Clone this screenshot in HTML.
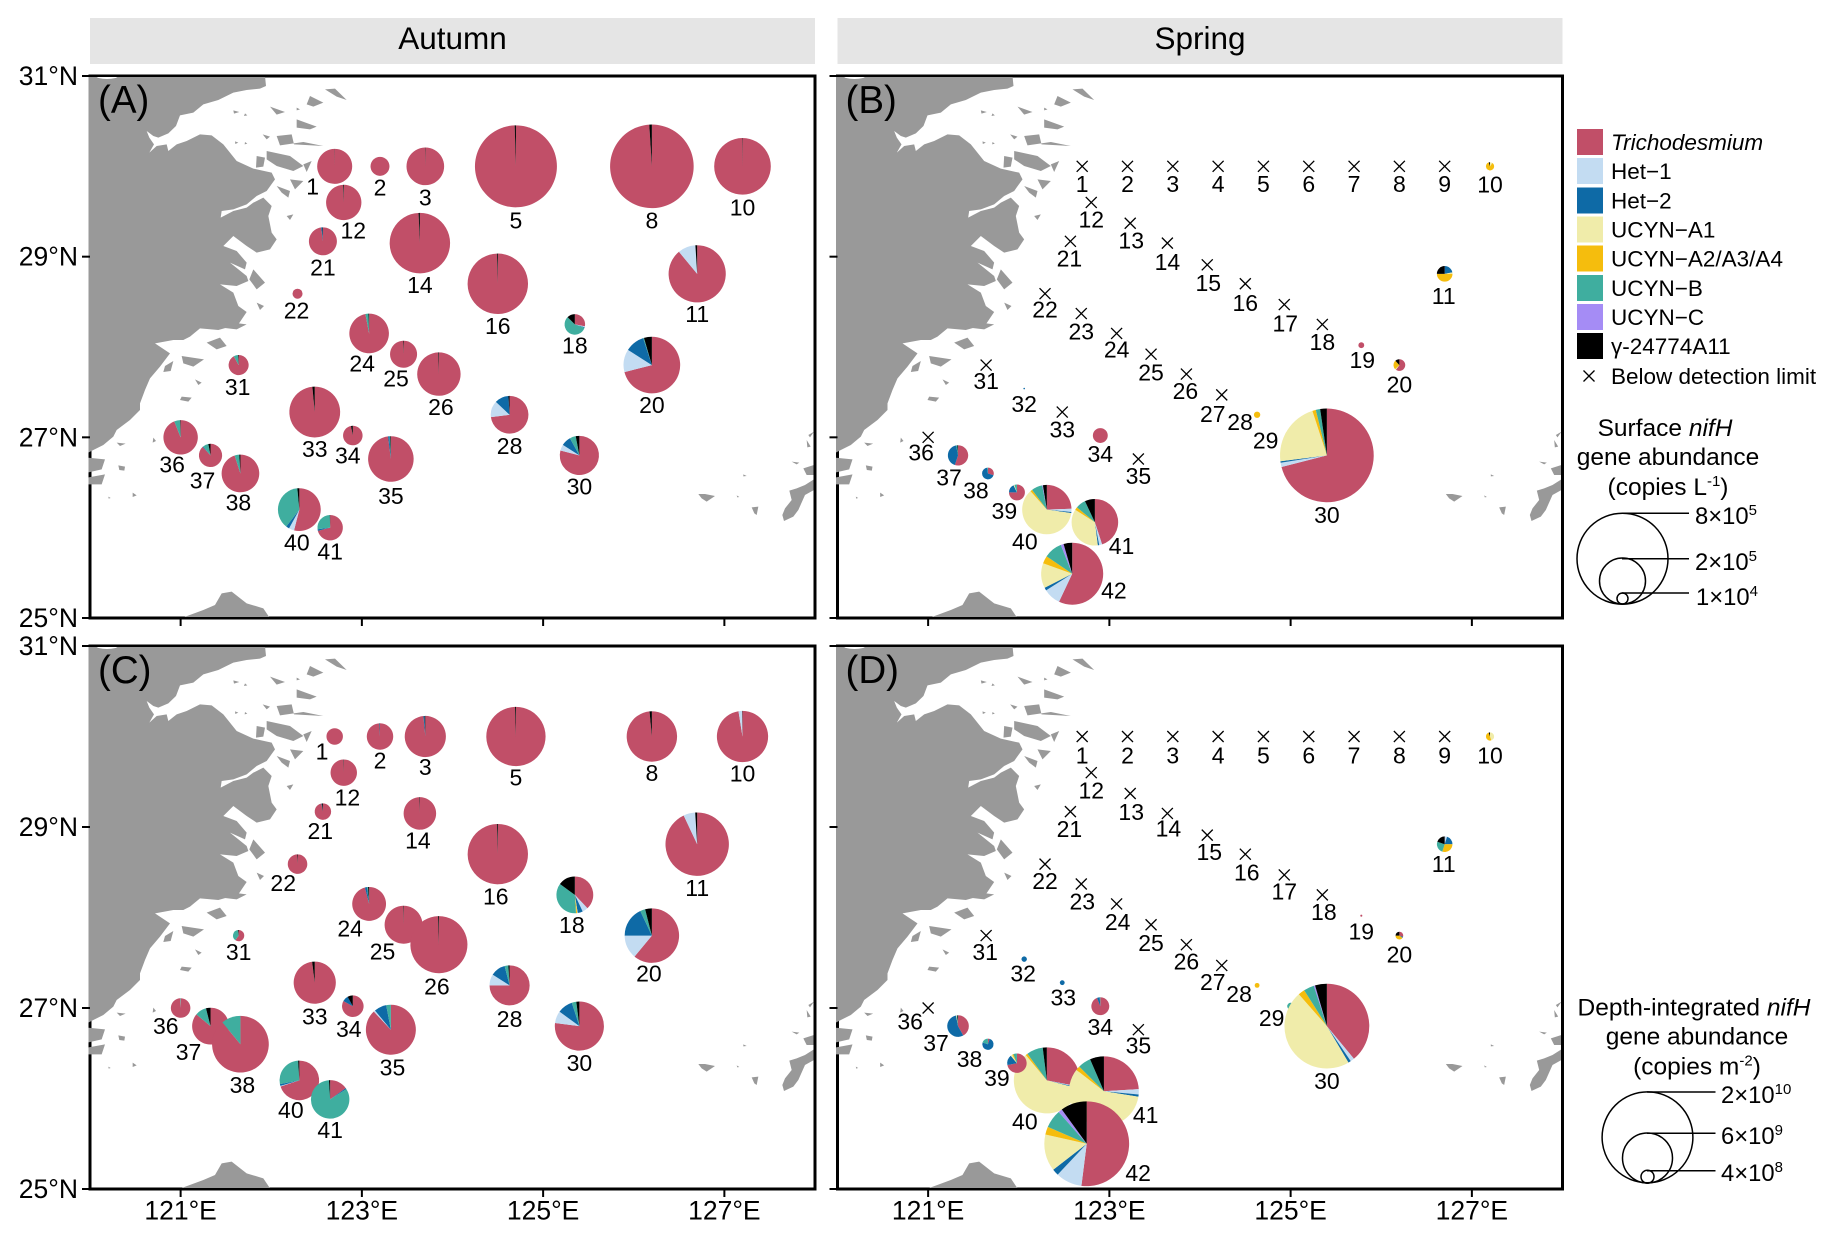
<!DOCTYPE html>
<html lang="en">
<head>
<meta charset="utf-8">
<title>nifH gene abundance maps</title>
<style>
html,body{margin:0;padding:0;background:#fff;}
svg{display:block;font-family:"Liberation Sans",Arial,sans-serif;}
</style>
</head>
<body>
<svg id="figure" xmlns="http://www.w3.org/2000/svg" width="1836" height="1244" viewBox="0 0 1836 1244">
  <defs>
    <g id="land-shape">
      <g transform="scale(0.3333333)" fill="#999999">
        <path d="M-9,0 L525,0 528,30 510,38 470,42 430,50 385,72 340,85 310,110 270,118 258,150 235,172 205,185 190,180 170,165 178,185 192,205 178,230 200,210 230,205 235,225 260,205 290,195 330,175 365,178 400,205 440,255 490,278 545,290 555,310 530,345 500,360 470,385 430,400 395,405 392,425 430,405 470,395 490,380 520,365 545,390 535,420 545,470 560,490 540,520 500,530 470,510 430,480 400,510 440,525 470,560 465,580 420,560 470,600 475,615 440,630 390,625 430,650 445,690 470,708 445,745 385,762 330,757 300,782 280,792 250,792 195,802 240,832 210,872 180,907 165,942 150,982 150,1002 120,1032 80,1062 70,1082 40,1107 10,1122 -9,1132 Z"/>
        <path d="M530,225 600,240 640,270 610,285 560,270 530,250Z M500,240 525,245 520,272 498,275Z M560,180 605,175 612,205 700,210 640,198 570,208Z M620,130 680,152 660,160 620,155Z M660,60 700,80 670,92 650,85Z M540,92 585,108 560,116Z M705,40 735,38 770,72 740,62Z M560,330 600,345 595,365 575,350Z M640,265 665,255 650,288Z M430,103 448,108 432,113Z M465,112 472,118 462,120Z M490,580 525,620 500,640 478,610Z M500,680 522,690 510,702Z M590,420 610,415 600,432Z M600,310 640,315 615,340Z M518,175 540,182 530,190Z M435,196 445,200 436,204Z M465,198 472,203 464,205Z M620,95 630,100 620,103Z"/>
        <path d="M225,870 250,855 242,885 220,888Z M275,840 342,850 310,872 280,862Z M315,910 335,920 325,927Z M275,962 305,965 295,977 270,972Z M190,1085 198,1095 188,1100Z M80,1100 107,1103 90,1110Z M85,1168 105,1172 103,1184 88,1182Z M128,1250 140,1258 128,1263Z M-9,1145 45,1150 35,1180 -9,1190Z M-9,1205 45,1195 35,1225 -9,1225Z M55,1262 62,1266 56,1268Z M350,800 390,785 410,810 380,820Z M390,735 470,745 440,760 395,755Z"/>
        <path d="M275,1626 340,1602 375,1587 395,1552 425,1547 470,1582 520,1597 542,1630 275,1630Z"/>
        <path d="M2140,1177 2172,1167 2172,1197 2150,1197Z M2172,1210 2145,1227 2120,1237 2098,1244 2105,1272 2085,1297 2077,1317 2082,1335 2110,1322 2125,1302 2145,1257 2172,1242Z M2105,1157 2128,1160 2120,1165Z M1825,1254 1845,1254 1875,1260 1850,1277 1835,1267Z M1960,1195 1970,1200 1960,1201Z M2150,1092 2162,1112 2152,1114Z M1985,1294 2005,1292 2000,1317 1993,1312Z M2155,1077 2172,1067 2160,1084Z M1940,1258 1948,1263 1942,1264Z"/>
      </g>
      <ellipse cx="17" cy="0" rx="11" ry="3" fill="#ffffff"/>
    </g>
  </defs>

  <g id="strips">
    <rect x="90" y="18" width="725" height="46" fill="#e5e5e5"/>
    <text x="452.5" y="49" font-size="31.5" text-anchor="middle">Autumn</text>
    <rect x="837.5" y="18" width="725" height="46" fill="#e5e5e5"/>
    <text x="1200" y="49" font-size="31.5" text-anchor="middle">Spring</text>
  </g>

  <g id="panels"></g>

  <g id="legend" font-size="22.5">
    <rect x="1577" y="129" width="26" height="26" fill="#c14f68"/>
    <text x="1611" y="150" font-style="italic">Trichodesmium</text>
    <rect x="1577" y="158" width="26" height="26" fill="#c3dcf2"/>
    <text x="1611" y="179">Het−1</text>
    <rect x="1577" y="187.500" width="26" height="26" fill="#0e6aa6"/>
    <text x="1611" y="208.500">Het−2</text>
    <rect x="1577" y="216.500" width="26" height="26" fill="#f0ecaa"/>
    <text x="1611" y="237.500">UCYN−A1</text>
    <rect x="1577" y="245.500" width="26" height="26" fill="#f5bd0d"/>
    <text x="1611" y="266.500">UCYN−A2/A3/A4</text>
    <rect x="1577" y="275" width="26" height="26" fill="#3fae9f"/>
    <text x="1611" y="296">UCYN−B</text>
    <rect x="1577" y="304" width="26" height="26" fill="#a58cf5"/>
    <text x="1611" y="325">UCYN−C</text>
    <rect x="1577" y="333" width="26" height="26" fill="#000000"/>
    <text x="1611" y="354">γ-24774A11</text>
    <path d="M1583.500,370.500 L1594.500,381.500 M1594.500,370.500 L1583.500,381.500" stroke="#000" stroke-width="1.300" fill="none"/>
    <text x="1611" y="384">Below detection limit</text>
  </g>

  <g id="surface-size-legend" fill="none" stroke="#000" stroke-width="1.500">
    <circle cx="1622.500" cy="558.700" r="45.500"/>
    <circle cx="1622.500" cy="581" r="23"/>
    <circle cx="1622.500" cy="598.500" r="5.500"/>
    <path d="M1622,513.300 H1689 M1622,558.700 H1689 M1622,593 H1689"/>
    <g stroke="none" fill="#000" font-size="24.5" text-anchor="middle">
      <text x="1665" y="436">Surface <tspan font-style="italic">nifH</tspan></text>
      <text x="1668" y="465">gene abundance</text>
      <text x="1668" y="495">(copies L<tspan dy="-9" font-size="15">-1</tspan><tspan dy="9">)</tspan></text>
    </g>
    <g stroke="none" fill="#000" font-size="23.8">
      <text x="1695" y="524">8×10<tspan dy="-9" font-size="15">5</tspan></text>
      <text x="1695" y="570">2×10<tspan dy="-9" font-size="15">5</tspan></text>
      <text x="1696" y="605">1×10<tspan dy="-9" font-size="15">4</tspan></text>
    </g>
  </g>

  <g id="depth-size-legend" fill="none" stroke="#000" stroke-width="1.500">
    <circle cx="1647.500" cy="1137.300" r="45.400"/>
    <circle cx="1647.500" cy="1158" r="25"/>
    <circle cx="1647.500" cy="1176.700" r="6.500"/>
    <path d="M1647,1092 H1715.500 M1647,1133.300 H1715.500 M1647,1170.700 H1715.500"/>
    <g stroke="none" fill="#000" font-size="24.5" text-anchor="middle">
      <text x="1694" y="1015.500">Depth-integrated <tspan font-style="italic">nifH</tspan></text>
      <text x="1697" y="1044.500">gene abundance</text>
      <text x="1697" y="1074.500">(copies m<tspan dy="-9" font-size="15">-2</tspan><tspan dy="9">)</tspan></text>
    </g>
    <g stroke="none" fill="#000" font-size="23.8">
      <text x="1721" y="1103">2×10<tspan dy="-9" font-size="15">10</tspan></text>
      <text x="1721" y="1144">6×10<tspan dy="-9" font-size="15">9</tspan></text>
      <text x="1721" y="1181">4×10<tspan dy="-9" font-size="15">8</tspan></text>
    </g>
  </g>
</svg>

<script>
// ---- axis tick values ----
const lonTicks = [121, 123, 125, 127];
const latTicks = [25, 27, 29, 31];

// ---- series ----
const seriesKeys = ['trichodesmium', 'het-1', 'het-2', 'ucyn-a1', 'ucyn-a2-a3-a4', 'ucyn-b', 'ucyn-c', 'gamma-24774a11'];
const seriesColors = ['#c14f68', '#c3dcf2', '#0e6aa6', '#f0ecaa', '#f5bd0d', '#3fae9f', '#a58cf5', '#000000'];

// ---- station coordinates (degrees) ----
const stationIds = [1,2,3,4,5,6,7,8,9,10,11,12,13,14,15,16,17,18,19,20,21,22,23,24,25,26,27,28,29,30,31,32,33,34,35,36,37,38,39,40,41,42];
const stationLon = [122.70,123.20,123.70,124.20,124.70,125.20,125.70,126.20,126.70,127.20,126.70,122.80,123.23,123.64,124.08,124.50,124.93,125.35,125.78,126.20,122.57,122.29,122.69,123.08,123.46,123.85,124.24,124.63,125.00,125.40,121.64,122.06,122.48,122.90,123.32,121.00,121.33,121.66,121.98,122.31,122.84,122.59];
const stationLat = [30.00,30.00,30.00,30.00,30.00,30.00,30.00,30.00,30.00,30.00,28.81,29.60,29.37,29.15,28.91,28.70,28.47,28.25,28.02,27.80,29.17,28.59,28.37,28.15,27.92,27.70,27.47,27.25,27.02,26.80,27.80,27.54,27.28,27.02,26.76,27.00,26.80,26.60,26.39,26.20,26.06,25.49];

// ---- Panel A: autumn surface (copies per litre) ----
const autumnSurfaceStations = [1,2,3,5,8,10,11,12,14,16,18,20,21,22,24,25,26,28,30,31,33,34,35,36,37,38,40,41];
const autumnSurfaceAbundance = [116000,34000,134000,635000,660000,303000,309000,118000,345000,345000,40000,303000,74000,9500,148000,69000,178000,134000,145000,38000,244000,36000,196000,112000,51000,134000,173000,61000];
const autumnSurfaceComposition = [
 [99.8,0,0,0,0,0,0,0.2],[100,0,0,0,0,0,0,0],[99.7,0,0,0,0,0,0,0.3],[99.5,0,0,0,0,0,0,0.5],[99,0,0,0,0,0,0,1],[99.8,0,0,0,0,0,0,0.2],
 [89,10,0,0,0,0,0,1],[99.3,0,0,0,0,0,0,0.7],[99.3,0,0,0,0,0,0,0.7],[99.5,0,0,0,0,0,0,0.5],[28,1.5,1,0,0,57,0,12.5],[71,13,11,0,0,0.5,0,4.5],
 [98,0,1.5,0,0,0,0,0.5],[100,0,0,0,0,0,0,0],[97,0,0,0,0,2.5,0,0.5],[99.3,0,0,0,0,0,0,0.7],[99.5,0,0,0,0,0,0,0.5],[73,14,12,0,0,0,0,1],
 [79,5,8,0,0,5,0,3],[92,0,0,0,0,7,0,1],[98.5,0,0,0,0,0,0,1.5],[97,0,0,0,0,0,0,3],[98,0,1,0,0,0.5,0,0.5],[94,0,0,0,0,5.5,0,0.5],
 [88,0,1,0,0,8,0,3],[95,0,0,0,0,4,0,1],[54,4,2.5,0,0,38,0,1.5],[71,0,2,0,0,26.5,0,0.5]
];

// ---- Panel B: spring surface (39 sits on top of 40 in the figure) ----
const springSurfaceStations = [10,11,19,20,28,29,30,32,34,37,38,40,39,41,42];
const springSurfaceAbundance = [6400,23000,3200,13000,3800,11000,830000,250,21000,39000,13000,230000,24000,205000,363000];
const springSurfaceComposition = [
 [0,0,0,10,85,0,0,5],[0,0,22,3,50,0,0,25],[100,0,0,0,0,0,0,0],[60,0,0,3,25,0,0,12],[0,0,0,0,100,0,0,0],[0,0,0,2,93,0,0,5],
 [71,1.5,0.5,22,1.2,1.5,0,2.3],[0,0,100,0,0,0,0,0],[100,0,0,0,0,0,0,0],[55,0,42,0,0,2,0,1],[30,0,68,0,0,2,0,0],
 [24,2,0.7,60,1.3,7,0.5,2.5],[75,0,18,2,0,5,0,0],[45,2,1,36,2,7,0,7],[57,9,1.5,13,4,9.5,1.5,4.5]
];
const springSurfaceBelowLimit = [1,2,3,4,5,6,7,8,9,12,13,14,15,16,17,18,21,22,23,24,25,26,27,31,33,35,36];

// ---- Panel C: autumn depth-integrated (copies per square metre) ----
const autumnDepthStations = [1,2,3,5,8,10,11,12,14,16,18,20,21,22,24,25,26,28,30,31,33,34,35,36,37,38,40,41];
const autumnDepthAbundance = [640000000,1650000000,4000000000,8300000000,6000000000,6200000000,9500000000,1650000000,2500000000,8600000000,3200000000,7000000000,640000000,900000000,2700000000,3400000000,7700000000,3800000000,5700000000,300000000,4200000000,1100000000,5900000000,900000000,3200000000,7600000000,3700000000,3500000000];
const autumnDepthComposition = [
 [100,0,0,0,0,0,0,0],[99,0,0.7,0,0,0,0,0.3],[98.5,0,1,0,0,0,0,0.5],[99.5,0,0,0,0,0,0,0.5],[98.5,0,0,0,0,0,0,1.5],[97.5,2.3,0,0,0,0,0,0.2],
 [93,6,0,0,0,0,0,1],[99.5,0,0,0,0,0,0,0.5],[99.5,0,0,0,0,0,0,0.5],[99.5,0,0,0,0,0,0,0.5],[38,5,4.5,0.5,1,36,0,15],[61,14,18,0,0,3,0,4],
 [97,0,1,0,0,0,0,2],[99,0,0,0,0,0,0,1],[96,0,2,0,0,1,0,1],[99.6,0,0,0,0,0,0,0.4],[99.5,0,0,0,0,0,0,0.5],[75,9,12,0,0,3,0,1],
 [77,8,10,0,0,3,0,2],[60,0,0,0,0,38,0,2],[98,0,0,0,0,0,0,2],[83,0,9,0,0,0,0,8],[88,1,8,0,0,3,0,0],[99,0,0,0,0,1,0,0],
 [86,0,0,0,0,10,0,4],[89,0,0,0,0,11,0,0],[70,0.5,1.5,0,0,27,0,1],[15,0,1,0,0,83,0,1]
];

// ---- Panel D: spring depth-integrated (39 sits on top of 40 in the figure) ----
const springDepthStations = [10,11,19,20,28,29,30,32,33,34,37,38,40,39,41,42];
const springDepthAbundance = [160000000,570000000,10000000,140000000,55000000,110000000,17000000000,69000000,55000000,760000000,1100000000,300000000,10300000000,890000000,11500000000,17000000000];
const springDepthComposition = [
 [0,0,0,45,50,0,0,5],[0,5,20,0,30,25,0,20],[100,0,0,0,0,0,0,0],[30,0,5,0,40,0,0,25],[0,0,0,0,100,0,0,0],[0,0,15,0,30,55,0,0],
 [39,1.5,1,47,2.5,4,0.5,4.5],[0,0,100,0,0,0,0,0],[0,0,100,0,0,0,0,0],[94,0,5,0,0,1,0,0],[42,0,55,1,0,1,0,1],[5,0,75,0,0,20,0,0],
 [28,0.5,0.5,60,1,8,0,2],[72,0,17,3,2,6,0,0],[24,2.5,1,58,2,6,0,6.5],[52,10,2.5,14,3,7,1.5,10]
];
const springDepthBelowLimit = [1,2,3,4,5,6,7,8,9,12,13,14,15,16,17,18,21,22,23,24,25,26,27,31,35,36];

// ---- stations plotted away from their nominal location, by panel ----
const autumnSurfaceMoved = {41:[122.65,26.00]};
const springSurfaceMoved = {};
const autumnDepthMoved = {41:[122.65,25.99]};
const springDepthMoved = {41:[122.94,26.08],42:[122.75,25.50]};

// ---- layout: label offset from station centre, in pixels ----
const labelOffsetA = {1:[-22,20],2:[0,21],3:[0,31],5:[0,54],8:[0,54],10:[0,41],11:[0,40],12:[9.5,28],14:[0,42],16:[0,42],18:[0,21],20:[0,40],21:[0,26],22:[-1,17],24:[-7,30],25:[-7.5,24.5],26:[2,33],28:[0,31],30:[0,31],31:[-1,22],33:[0,37],34:[-5,20],35:[0,37],36:[-8.5,27],37:[-8,25],38:[-2,29],40:[-2.5,33],41:[0,24]};
const labelOffsetB = {1:[0,17.5],2:[0,17.5],3:[0,17.5],4:[0,17.5],5:[0,17.5],6:[0,17.5],7:[0,17.5],8:[0,17.5],9:[0,17.5],10:[0,18],11:[-1,22.4],12:[0,17],13:[1,17.5],14:[0,19],15:[1,18],16:[0,19],17:[1,19],18:[0,17.5],19:[1,15],20:[0,19.6],21:[-1,17],22:[0,16],23:[0,18],24:[0,16],25:[0,18.4],26:[-1,17],27:[-9,19],28:[-17,7],29:[-25,5],30:[0,59.6],31:[0,16],32:[0,15.5],33:[0,17.5],34:[0,18.4],35:[0,17],36:[-7,15],37:[-9,22],38:[-12,17],39:[-12.6,18.8],40:[-22,32],41:[26.7,23.7],42:[41.7,16.7]};
const labelOffsetC = {1:[-12.7,15],2:[0,24],3:[0,30.5],5:[0,41],8:[0,36.4],10:[0,37],11:[0,44],12:[3.7,25],14:[-2,27],16:[-2,42.3],18:[-3,30],20:[-3,38],21:[-2.6,19.6],22:[-14.3,18.8],24:[-19,24.7],25:[-21,27],26:[-2,42],28:[0,33.7],30:[0,36.8],31:[0,16.4],33:[0,34],34:[-4,23],35:[1.6,37.6],36:[-14.8,18],37:[-22,26],38:[2,40.7],40:[-8.5,29.8],41:[0,30.5]};
const labelOffsetD = {1:[0,18.8],2:[0,18.8],3:[0,18.8],4:[0,18.8],5:[0,18.8],6:[0,18.8],7:[0,18.8],8:[0,18.8],9:[0,18.8],10:[0,18.8],11:[-1,20],12:[0,17.6],13:[1,18.4],14:[1,15],15:[2,17],16:[1.5,18.4],17:[0,16.4],18:[1.5,17],19:[0,15.7],20:[0,18.8],21:[-1,17.6],22:[0,17],23:[1,17.6],24:[1,18],25:[0,18.4],26:[0,17],27:[-9,16.4],28:[-18,8.6],29:[-19,11.7],30:[0,55],31:[-1,16.4],32:[-1,14.5],33:[1,15],34:[0,20.8],35:[0,15.7],36:[-18,13.3],37:[-22,17],38:[-18.4,15],39:[-20,15],40:[-22,41],41:[41.7,23.5],42:[51.4,29.4]};

const panels = [
  {key:'a', tag:'(A)', ox:90, oy:76, h:542, maxValue:800000, stations:autumnSurfaceStations, abundance:autumnSurfaceAbundance, composition:autumnSurfaceComposition, below:[], moved:autumnSurfaceMoved, labels:labelOffsetA, latLabels:true, lonLabels:false},
  {key:'b', tag:'(B)', ox:837.5, oy:76, h:542, maxValue:800000, stations:springSurfaceStations, abundance:springSurfaceAbundance, composition:springSurfaceComposition, below:springSurfaceBelowLimit, moved:springSurfaceMoved, labels:labelOffsetB, latLabels:false, lonLabels:false},
  {key:'c', tag:'(C)', ox:90, oy:646, h:543, maxValue:20000000000, stations:autumnDepthStations, abundance:autumnDepthAbundance, composition:autumnDepthComposition, below:[], moved:autumnDepthMoved, labels:labelOffsetC, latLabels:true, lonLabels:true},
  {key:'d', tag:'(D)', ox:837.5, oy:646, h:543, maxValue:20000000000, stations:springDepthStations, abundance:springDepthAbundance, composition:springDepthComposition, below:springDepthBelowLimit, moved:springDepthMoved, labels:labelOffsetD, latLabels:false, lonLabels:true}
];

const SVGNS = 'http://www.w3.org/2000/svg';
const PANEL_W = 725;
const MAX_RADIUS = 46;
const root = document.getElementById('panels');

function make(tag, parent) {
  const el = document.createElementNS(SVGNS, tag);
  parent.appendChild(el);
  return el;
}
function lonToX(p, lon) { return p.ox + (lon - 120) * PANEL_W / 8; }
function latToY(p, lat) { return p.oy + (31 - lat) * p.h / 6; }
function radiusFor(p, value) { return MAX_RADIUS * Math.sqrt(value / p.maxValue); }
function stationPosition(p, id) {
  const moved = p.moved[id];
  const i = stationIds.indexOf(id);
  const lon = moved ? moved[0] : stationLon[i];
  const lat = moved ? moved[1] : stationLat[i];
  return [lonToX(p, lon), latToY(p, lat)];
}

function drawPie(p, parent, id, value, comp) {
  const c = stationPosition(p, id);
  const r = radiusFor(p, value);
  const total = comp.reduce(function (a, b) { return a + b; }, 0);
  const g = make('g', parent);
  
  
  let angle = 0;
  comp.forEach(function (part, k) {
    if (part <= 0) return;
    const sweep = part / total * Math.PI * 2;
    let mark;
    if (part >= total) {
      mark = make('circle', g);
      mark.setAttribute('cx', c[0]);
      mark.setAttribute('cy', c[1]);
      mark.setAttribute('r', r);
    } else {
      const x0 = c[0] + r * Math.sin(angle), y0 = c[1] - r * Math.cos(angle);
      const x1 = c[0] + r * Math.sin(angle + sweep), y1 = c[1] - r * Math.cos(angle + sweep);
      mark = make('path', g);
      mark.setAttribute('d', 'M' + c[0] + ',' + c[1] + ' L' + x0 + ',' + y0 + ' A' + r + ',' + r + ' 0 ' + (sweep > Math.PI ? 1 : 0) + ' 1 ' + x1 + ',' + y1 + ' Z');
    }
    mark.setAttribute('fill', seriesColors[k]);
    
    
    angle += sweep;
  });
}

function drawCross(p, parent, id) {
  const c = stationPosition(p, id);
  const s = 5.5;
  const mark = make('path', parent);
  mark.setAttribute('d', 'M' + (c[0] - s) + ',' + (c[1] - s) + ' L' + (c[0] + s) + ',' + (c[1] + s) + ' M' + (c[0] + s) + ',' + (c[1] - s) + ' L' + (c[0] - s) + ',' + (c[1] + s));
  mark.setAttribute('stroke', '#000');
  mark.setAttribute('stroke-width', '1.3');
  mark.setAttribute('fill', 'none');
  
  
}

function drawLabel(p, parent, id) {
  const c = stationPosition(p, id);
  const off = p.labels[id] || [0, 18];
  const label = make('text', parent);
  label.setAttribute('x', c[0] + off[0]);
  label.setAttribute('y', c[1] + off[1] + 8);
  label.setAttribute('font-size', '23');
  label.setAttribute('text-anchor', 'middle');
  label.setAttribute('fill', '#000');
  label.textContent = String(id);
  
  
}

panels.forEach(function (p) {
  const g = make('g', root);
  
  

  // panel frame
  const frame = make('rect', g);
  frame.setAttribute('x', p.ox);
  frame.setAttribute('y', p.oy);
  frame.setAttribute('width', PANEL_W);
  frame.setAttribute('height', p.h);
  frame.setAttribute('fill', '#fff');
  frame.setAttribute('stroke', '#000');
  frame.setAttribute('stroke-width', '3');
  
  

  // coastline
  const clipId = 'clip-' + p.key;
  const clip = make('clipPath', g);
  clip.setAttribute('id', clipId);
  const clipRect = make('rect', clip);
  clipRect.setAttribute('x', p.ox - 1.5);
  clipRect.setAttribute('y', p.oy + 1);
  clipRect.setAttribute('width', PANEL_W);
  clipRect.setAttribute('height', p.h - 2);
  const landClip = make('g', g);
  landClip.setAttribute('clip-path', 'url(#' + clipId + ')');
  
  
  const land = make('use', landClip);
  land.setAttribute('href', '#land-shape');
  land.setAttribute('x', p.ox);
  land.setAttribute('y', p.oy);
  
  

  // axis ticks
  const ticks = make('g', g);
  
  
  lonTicks.forEach(function (lon) {
    const x = lonToX(p, lon);
    const t = make('line', ticks);
    t.setAttribute('x1', x);
    t.setAttribute('x2', x);
    t.setAttribute('y1', p.oy + p.h);
    t.setAttribute('y2', p.oy + p.h + 8);
    t.setAttribute('stroke', '#000');
    t.setAttribute('stroke-width', '2');
    
    
    if (p.lonLabels) {
      const lab = make('text', ticks);
      lab.setAttribute('x', x);
      lab.setAttribute('y', p.oy + p.h + 30.5);
      lab.setAttribute('font-size', '26.5');
      lab.setAttribute('text-anchor', 'middle');
      lab.textContent = lon + '°E';
      
      
    }
  });
  latTicks.forEach(function (lat) {
    const y = latToY(p, lat);
    const t = make('line', ticks);
    t.setAttribute('x1', p.ox - 8);
    t.setAttribute('x2', p.ox);
    t.setAttribute('y1', y);
    t.setAttribute('y2', y);
    t.setAttribute('stroke', '#000');
    t.setAttribute('stroke-width', '2');
    
    
    if (p.latLabels) {
      const lab = make('text', ticks);
      lab.setAttribute('x', p.ox - 12);
      lab.setAttribute('y', y + 9);
      lab.setAttribute('font-size', '26.5');
      lab.setAttribute('text-anchor', 'end');
      lab.textContent = lat + '°N';
      
      
    }
  });

  // panel tag
  const tag = make('text', g);
  tag.setAttribute('x', p.ox + 8);
  tag.setAttribute('y', p.oy + 37);
  tag.setAttribute('font-size', '38.5');
  tag.textContent = p.tag;
  
  

  // marks in station order
  const marks = make('g', g);
  
  
  p.below.forEach(function (id) { drawCross(p, marks, id); });
  p.stations.forEach(function (id, i) { drawPie(p, marks, id, p.abundance[i], p.composition[i]); });

  const labels = make('g', g);
  
  
  p.below.concat(p.stations).forEach(function (id) { drawLabel(p, labels, id); });
});
</script>
</body>
</html>
